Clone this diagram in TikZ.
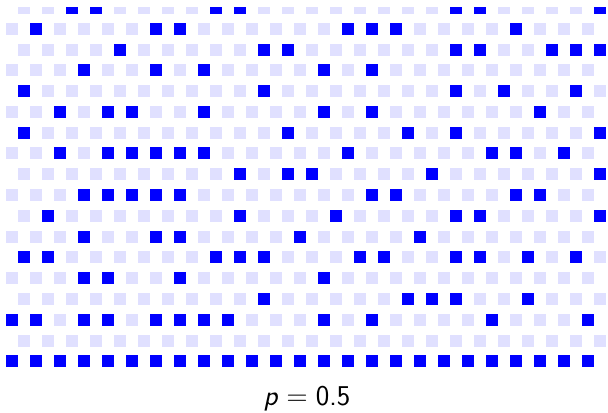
\documentclass[tikz,border=0pt]{standalone}
\usetikzlibrary{positioning}
\definecolor{wetblue}{RGB}{0,0,255}
\definecolor{dryblue}{RGB}{224,224,255}

\begin{document}
\begin{tikzpicture}[x=0.5cm,y=0.5cm]

\def\sitesize{0.25cm}
\def\rowgap{0.866}

\tikzset{site/.style={rectangle,inner sep=0pt,minimum size=\sitesize}}
\tikzset{drysite/.style={site,fill=dryblue}}
\tikzset{wetsite/.style={site,fill=wetblue}}
\tikzset{textnode/.style={inner sep=0pt}}

\useasboundingbox (0,0) rectangle (25.333,17.167);

\begin{scope}
\clip (0,0) rectangle (25.333,16.875);

% empty lattice, row 0 at the bottom
\foreach \t in {0,...,17}{
  \pgfmathsetmacro{\xoff}{isodd(\t) ? 1 : 0.5}
  \pgfmathsetmacro{\ypos}{2.1125+\t*\rowgap}
  \foreach \k in {0,...,24}
    \node[drysite] (s\t-\k) at (\xoff+\k,\ypos) {};
}

% wet sites of each row
\foreach \t/\wet in {0/{0,...,24},
                     2/{0,1,3,4,6,7,8,9,13,15,20,24},
                     3/{10,16,17,18,21},
                     4/{3,4,7,13},
                     5/{0,1,8,9,10,14,15,18,19,21,23},
                     6/{3,6,7,12,17},
                     7/{1,9,13,18,19,24},
                     8/{3,4,5,6,7,15,16,21,22},
                     9/{9,11,12,17,24},
                     10/{2,4,5,6,7,8,14,20,21,23},
                     11/{0,11,16,18,24},
                     12/{2,4,5,8,13,15,22},
                     13/{0,10,18,20,23},
                     14/{3,6,8,13,15},
                     15/{4,10,11,18,19,22,23,24},
                     16/{1,6,7,14,15,16,21},
                     17/{2,3,8,9,18,19,24}}{
  \foreach \k in \wet
    \node[wetsite] (w\t-\k) at (s\t-\k) {};
}
\end{scope}

\node[textnode,anchor=base] (plabel) at (12.79,0.29) {\fontsize{17}{20}\selectfont $\textsf{\textit{p}} = \textsf{0.5}$};

\end{tikzpicture}
\end{document}
